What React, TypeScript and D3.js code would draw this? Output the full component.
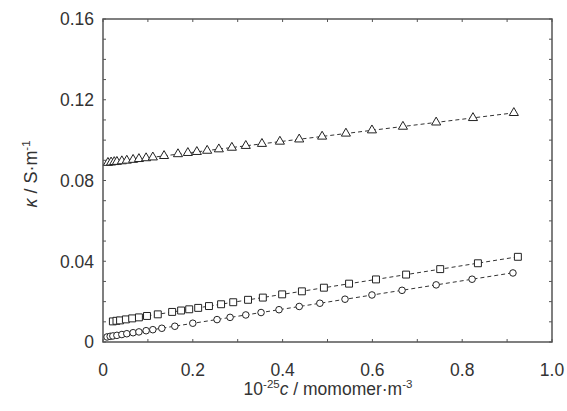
import React, { useEffect, useRef } from 'react'
import * as d3 from 'd3'

// 10^-25 c (monomer m^-3) and kappa (S m^-1)
const triC = [0.011, 0.018, 0.025, 0.031, 0.042, 0.053, 0.067, 0.080, 0.096, 0.111, 0.136, 0.167, 0.189, 0.209, 0.232, 0.258, 0.287, 0.318, 0.354, 0.394, 0.437, 0.488, 0.541, 0.599, 0.668, 0.742, 0.824, 0.915]
const triK = [0.0888, 0.0890, 0.0892, 0.0893, 0.0896, 0.0899, 0.0903, 0.0907, 0.0911, 0.0915, 0.0922, 0.0931, 0.0937, 0.0942, 0.0948, 0.0955, 0.0963, 0.0972, 0.0982, 0.0993, 0.1004, 0.1018, 0.1033, 0.1049, 0.1067, 0.1088, 0.1110, 0.1135]

const sqC = [0.022, 0.030, 0.038, 0.051, 0.065, 0.080, 0.098, 0.122, 0.154, 0.174, 0.192, 0.212, 0.236, 0.263, 0.290, 0.323, 0.356, 0.399, 0.443, 0.492, 0.548, 0.608, 0.675, 0.751, 0.835, 0.924]
const sqK = [0.0102, 0.0105, 0.0107, 0.0112, 0.0117, 0.0122, 0.0129, 0.0137, 0.0149, 0.0156, 0.0162, 0.0169, 0.0178, 0.0187, 0.0197, 0.0209, 0.0220, 0.0236, 0.0251, 0.0269, 0.0289, 0.0310, 0.0334, 0.0361, 0.0390, 0.0422]

const cirC = [0.009, 0.016, 0.022, 0.031, 0.042, 0.053, 0.067, 0.080, 0.096, 0.111, 0.131, 0.160, 0.200, 0.254, 0.283, 0.318, 0.352, 0.392, 0.437, 0.483, 0.539, 0.599, 0.666, 0.742, 0.822, 0.913]
const cirK = [0.0025, 0.0028, 0.0030, 0.0033, 0.0037, 0.0041, 0.0046, 0.0050, 0.0056, 0.0061, 0.0068, 0.0078, 0.0093, 0.0111, 0.0122, 0.0134, 0.0146, 0.0160, 0.0176, 0.0192, 0.0212, 0.0233, 0.0256, 0.0283, 0.0311, 0.0342]

const xTickLabels = ['0', '0.2', '0.4', '0.6', '0.8', '1.0']
const yTickLabels = ['0', '0.04', '0.08', '0.12', '0.16']

export default function App() {
  const ref = useRef<SVGSVGElement>(null)

  useEffect(() => {
    const width = 567
    const height = 411
    const m = { left: 103, right: 15, top: 19, bottom: 69 }

    const svg = d3.select(ref.current)
    svg.selectAll('*').remove()

    const x = d3.scaleLinear().domain([0, 1]).range([m.left, width - m.right])
    const y = d3.scaleLinear().domain([0, 0.16]).range([height - m.bottom, m.top])

    const axisColor = '#555'
    const textColor = '#333'
    const font = 'Arial, "Liberation Sans", sans-serif'

    // frame + inward ticks
    const g = svg.append('g')
    g.append('rect')
      .attr('x', x(0)).attr('y', y(0.16))
      .attr('width', x(1) - x(0)).attr('height', y(0) - y(0.16))
      .attr('fill', 'none').attr('stroke', axisColor).attr('stroke-width', 1.5)

    const xt = d3.range(0, 11).map(i => i / 10)
    const yt = d3.range(0, 17).map(i => i / 100)
    const tl = 3
    xt.forEach(v => {
      g.append('line').attr('x1', x(v)).attr('x2', x(v)).attr('y1', y(0)).attr('y2', y(0) - tl).attr('stroke', axisColor)
      g.append('line').attr('x1', x(v)).attr('x2', x(v)).attr('y1', y(0.16)).attr('y2', y(0.16) + tl).attr('stroke', axisColor)
    })
    yt.forEach(v => {
      g.append('line').attr('y1', y(v)).attr('y2', y(v)).attr('x1', x(0)).attr('x2', x(0) + tl).attr('stroke', axisColor)
      g.append('line').attr('y1', y(v)).attr('y2', y(v)).attr('x1', x(1)).attr('x2', x(1) - tl).attr('stroke', axisColor)
    })

    g.selectAll('text.xt').data(xTickLabels).join('text')
      .attr('class', 'xt')
      .attr('x', d => x(+d)).attr('y', y(0) + 34)
      .attr('text-anchor', 'middle')
      .attr('font-family', font).attr('font-size', 17.5).attr('fill', textColor)
      .text(d => d)

    g.selectAll('text.yt').data(yTickLabels).join('text')
      .attr('class', 'yt')
      .attr('x', x(0) - 9).attr('y', d => y(+d)).attr('dy', '0.36em')
      .attr('text-anchor', 'end')
      .attr('font-family', font).attr('font-size', 17.5).attr('fill', textColor)
      .text(d => d)

    // axis titles
    const xl = svg.append('text')
      .attr('x', 328).attr('y', 395)
      .attr('text-anchor', 'middle')
      .attr('font-family', font).attr('font-size', 17.5).attr('fill', textColor)
    xl.append('tspan').text('10')
    xl.append('tspan').attr('dy', -7).attr('font-size', 11.5).text('-25')
    xl.append('tspan').attr('dy', 7).attr('font-style', 'italic').text('c')
    xl.append('tspan').text(' / momomer·m')
    xl.append('tspan').attr('dy', -7).attr('font-size', 11.5).text('-3')

    const yl = svg.append('text')
      .attr('transform', 'translate(37,174) rotate(-90)')
      .attr('text-anchor', 'middle')
      .attr('font-family', font).attr('font-size', 18).attr('fill', textColor)
    yl.append('tspan').attr('font-style', 'italic').text('κ')
    yl.append('tspan').text(' / S·m')
    yl.append('tspan').attr('dy', -7).attr('font-size', 11.5).text('-1')

    // series: fit line + markers
    const series = [
      { c: triC, k: triK, shape: d3.symbolTriangle, size: 36 },
      { c: sqC, k: sqK, shape: d3.symbolSquare, size: 48 },
      { c: cirC, k: cirK, shape: d3.symbolCircle, size: 34 },
    ]

    series.forEach(s => {
      const mx = d3.mean(s.c) as number
      const my = d3.mean(s.k) as number
      const sxy = d3.sum(s.c, (c, i) => (c - mx) * (s.k[i] - my))
      const sxx = d3.sum(s.c, c => (c - mx) * (c - mx))
      const b = sxy / sxx
      const a = my - b * mx
      const c0 = d3.min(s.c) as number
      const c1 = d3.max(s.c) as number

      svg.append('path')
        .attr('d', d3.line()([[x(c0), y(a + b * c0)], [x(c1), y(a + b * c1)]]))
        .attr('fill', 'none').attr('stroke', '#333').attr('stroke-width', 1)
        .attr('stroke-dasharray', '4,3')

      svg.append('g').selectAll('path')
        .data(s.c.map((c, i) => [c, s.k[i]]))
        .join('path')
        .attr('transform', d => `translate(${x(d[0])},${y(d[1])})`)
        .attr('d', d3.symbol().type(s.shape).size(s.size)())
        .attr('fill', 'white').attr('stroke', '#222').attr('stroke-width', 1)
    })
  }, [])

  return (
    <svg ref={ref} width={567} height={411}
      style={{ position: 'absolute', left: 0, top: 0, background: 'white' }} />
  )
}
